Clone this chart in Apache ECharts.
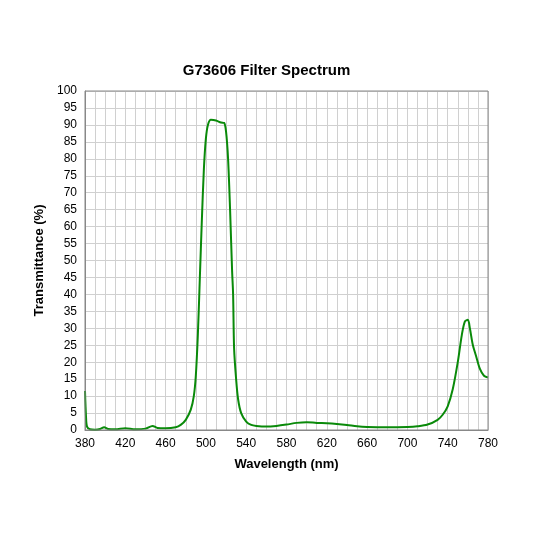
<!DOCTYPE html><html><head><meta charset="utf-8"><script src="https://cdn.jsdelivr.net/npm/echarts@6/dist/echarts.min.js"></script>
<style>html,body{margin:0;background:#fff}#c{width:533px;height:533px}</style></head><body><div id="c"></div><script>
const wavelengths=[380,381,382,385,390,395,399,403,410,420,430,440,447,452,460,470,475,480,485,488,490,492,494,496,498,500,502,505,510,515,518,520,522,524,526,527,528,530,532,535,540,545,550,560,570,580,590,600,610,620,630,640,650,660,680,700,710,720,730,735,740,745,750,754,757,760,762,765,768,772,776,780];
const transmittance=[11.5,4,1,0.2,0.1,0.3,0.8,0.3,0.2,0.5,0.2,0.4,1.2,0.6,0.5,0.8,1.5,3,6,10,16,28,45,62,77,86,90,91.5,91.3,90.7,90.6,88,80,65,47,40,24,15,9,5,2.5,1.5,1.2,1.0,1.2,1.6,2.1,2.3,2.1,2.0,1.8,1.5,1.1,0.9,0.8,0.9,1.1,1.6,3,4.5,7,12,20,28,32,32.5,30,25,22,18,16,15.5];
const ch=echarts.init(document.getElementById('c'));
const F='Liberation Sans, Arial, sans-serif';
ch.setOption({animation:false,
title:{text:'G73606 Filter Spectrum',left:'center',top:58,textStyle:{fontFamily:F,fontSize:15,fontWeight:'bold',color:'#000'}},
grid:{left:85,right:45,top:91,bottom:103},
xAxis:{type:'value',min:380,max:780,interval:10,name:'Wavelength (nm)',nameLocation:'middle',nameGap:28,
 nameTextStyle:{fontFamily:F,fontSize:13,fontWeight:'bold',color:'#000'},
 axisLine:{lineStyle:{color:'#888'}},axisTick:{show:false},
 axisLabel:{fontFamily:F,fontSize:12,color:'#000',formatter:v=>(v-380)%40===0?v:''},
 splitLine:{lineStyle:{color:'#d0d0d0'}}},
yAxis:{type:'value',min:0,max:100,interval:5,name:'Transmittance (%)',nameLocation:'middle',nameGap:36,
 nameTextStyle:{fontFamily:F,fontSize:13,fontWeight:'bold',color:'#000'},
 axisLine:{show:true,lineStyle:{color:'#888'}},axisTick:{show:false},
 axisLabel:{fontFamily:F,fontSize:12,color:'#000'},
 splitLine:{lineStyle:{color:'#d0d0d0'}}},
series:[{type:'line',data:wavelengths.map((w,i)=>[w,transmittance[i]]),smooth:0.3,showSymbol:false,lineStyle:{color:'#0a8a0a',width:2}}]
});
ch.getZr().add(new echarts.graphic.Rect({shape:{x:85,y:91,width:403,height:339},style:{fill:'none',stroke:'#888',lineWidth:1},z:10}));
</script></body></html>
